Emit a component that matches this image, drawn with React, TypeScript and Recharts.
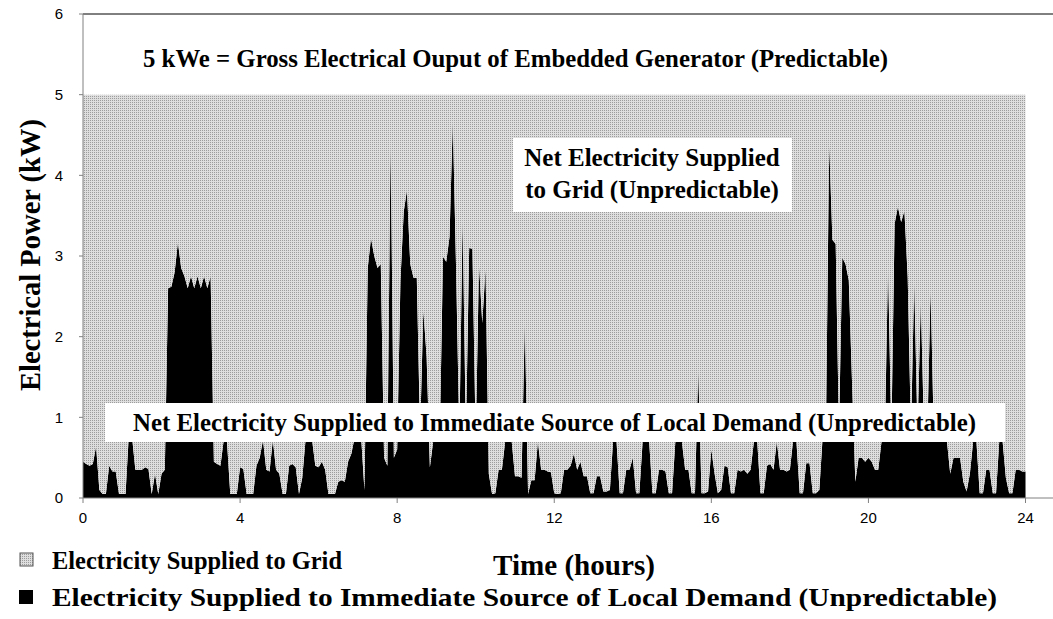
import React from "react";
import { Area, AreaChart, ReferenceLine, XAxis, YAxis } from "recharts";

// demand on the local source, kW, one reading every 5 minutes
const demand00to04 = [
  0.45, 0.42, 0.4, 0.42, 0.64, 0.1, 0.05, 0.05, 0.4, 0.33, 0.33, 0.05,
  0.05, 0.05, 0.78, 0.75, 0.35, 0.35, 0.35, 0.38, 0.36, 0.05, 0.3, 0.05,
  0.3, 0.35, 2.6, 2.62, 2.8, 3.17, 2.85, 2.75, 2.6, 2.75, 2.6, 2.75,
  2.6, 2.75, 2.6, 2.75, 0.45, 0.42, 0.4, 0.72, 0.7, 0.05, 0.05, 0.05,
];
const demand04to08 = [
  0.38, 0.36, 0.05, 0.05, 0.05, 0.4, 0.5, 0.72, 0.35, 0.33, 0.72, 0.35,
  0.3, 0.05, 0.05, 0.4, 0.42, 0.38, 0.05, 0.25, 0.72, 0.7, 0.72, 0.4,
  0.38, 0.45, 0.35, 0.05, 0.05, 0.05, 0.2, 0.22, 0.2, 0.45, 0.55, 0.75,
  0.78, 0.75, 0.1, 2.85, 3.22, 3.0, 2.85, 2.9, 0.5, 0.4, 4.46, 0.5,
];
const demand08to12 = [
  0.6, 2.7, 3.55, 3.82, 2.9, 2.73, 2.73, 0.8, 2.33, 1.75, 0.38, 0.7,
  0.75, 0.7, 2.99, 2.93, 3.24, 4.69, 2.85, 0.75, 3.49, 0.75, 3.1, 3.09,
  0.7, 2.91, 2.17, 2.85, 0.3, 0.05, 0.06, 0.35, 0.35, 0.7, 0.72, 0.7,
  0.27, 0.27, 0.25, 2.2, 0.05, 0.22, 0.22, 0.7, 0.35, 0.35, 0.33, 0.32,
];
const demand12to16 = [
  0.06, 0.05, 0.06, 0.35, 0.35, 0.4, 0.55, 0.35, 0.45, 0.27, 0.27, 0.06,
  0.06, 0.27, 0.27, 0.08, 0.08, 0.1, 0.72, 0.72, 0.06, 0.06, 0.35, 0.35,
  0.5, 0.06, 0.06, 0.7, 0.72, 0.7, 0.06, 0.06, 0.35, 0.35, 0.33, 0.06,
  0.06, 0.7, 0.72, 0.7, 0.35, 0.35, 0.06, 0.06, 1.6, 0.06, 0.06, 0.08,
];
const demand16to20 = [
  0.6, 0.3, 0.06, 0.1, 0.4, 0.38, 0.06, 0.06, 0.35, 0.33, 0.35, 0.3,
  0.35, 0.7, 0.72, 0.06, 0.06, 0.4, 0.42, 0.35, 0.7, 0.35, 0.35, 0.33,
  0.35, 0.72, 0.7, 0.06, 0.06, 0.43, 0.43, 0.06, 0.06, 0.1, 0.75, 0.78,
  4.4, 3.2, 3.15, 0.8, 2.98, 2.9, 2.7, 1.43, 0.2, 0.5, 0.5, 0.45,
];
const demand20to24 = [
  0.5, 0.45, 0.35, 0.35, 0.7, 0.72, 2.89, 0.75, 3.4, 3.61, 3.42, 3.56,
  2.74, 0.8, 2.7, 0.8, 2.45, 0.8, 0.78, 2.6, 0.75, 0.7, 0.72, 0.7,
  0.7, 0.3, 0.5, 0.5, 0.5, 0.2, 0.08, 0.3, 0.7, 0.7, 0.06, 0.06,
  0.35, 0.35, 0.06, 0.06, 0.72, 0.7, 0.25, 0.06, 0.06, 0.35, 0.35, 0.33,
];
const demandAt24 = [0.33];

const STEP_HOURS = 5 / 60;
const GROSS_OUTPUT = 5; // kWe
const xTicks = [0, 4, 8, 12, 16, 20, 24];
const yTicks = [0, 1, 2, 3, 4, 5, 6];

const demand = [
  ...demand00to04,
  ...demand04to08,
  ...demand08to12,
  ...demand12to16,
  ...demand16to20,
  ...demand20to24,
  ...demandAt24,
];

const data = demand.map((d, i) => ({
  t: i * STEP_HOURS,
  demand: d,
  grid: GROSS_OUTPUT - d,
}));

const serif = "'Liberation Serif', 'Times New Roman', serif";
const sans = "'Liberation Sans', Arial, sans-serif";

const Stipple = ({ id }: { id: string }) => (
  <pattern id={id} width="2" height="2" patternUnits="userSpaceOnUse">
    <rect width="2" height="2" fill="#dedede" />
    <rect width="1" height="1" fill="#9c9c9c" />
  </pattern>
);

export default function App() {
  return (
    <div style={{ position: "absolute", left: 0, top: 0, width: 1053, height: 619, background: "#fff" }}>
      <AreaChart
        width={1053}
        height={619}
        data={data}
        margin={{ top: 14, right: 0, left: 0, bottom: 91 }}
      >
        <defs>
          <Stipple id="stipple" />
        </defs>
        <XAxis
          type="number"
          dataKey="t"
          domain={[0, 24.7]}
          ticks={xTicks}
          interval={0}
          height={30}
          tickSize={5}
          tickMargin={9}
          stroke="#808080"
          tick={{ fill: "#000", fontSize: 15, fontFamily: sans }}
        />
        <YAxis
          type="number"
          domain={[0, 6]}
          ticks={yTicks}
          interval={0}
          width={83}
          tickSize={4}
          tickMargin={16}
          stroke="#808080"
          tick={{ fill: "#000", fontSize: 15, fontFamily: sans }}
        />
        <ReferenceLine y={6} stroke="#000" strokeWidth={1} />
        <Area
          type="linear"
          dataKey="demand"
          stackId="1"
          stroke="none"
          fill="#000"
          fillOpacity={1}
          dot={false}
          activeDot={false}
          isAnimationActive={false}
        />
        <Area
          type="linear"
          dataKey="grid"
          stackId="1"
          stroke="none"
          fill="url(#stipple)"
          fillOpacity={1}
          dot={false}
          activeDot={false}
          isAnimationActive={false}
        />
      </AreaChart>
      <svg
        width={1053}
        height={619}
        style={{ position: "absolute", left: 0, top: 0, pointerEvents: "none" }}
      >
        <defs>
          <Stipple id="stippleKey" />
        </defs>
        <g fontFamily={serif} fontWeight="bold" fill="#000">
          <text x={143} y={67} fontSize={25} textLength={745} lengthAdjust="spacingAndGlyphs">
            5 kWe = Gross Electrical Ouput of Embedded Generator (Predictable)
          </text>
          <rect x={513} y={138} width={279} height={74} fill="#fff" />
          <text x={652} y={166} fontSize={25} textAnchor="middle">
            Net Electricity Supplied
          </text>
          <text x={652} y={198} fontSize={25} textAnchor="middle">
            to Grid (Unpredictable)
          </text>
          <rect x={105} y={403} width={900} height={39} fill="#fff" />
          <text x={133} y={431} fontSize={25} textLength={843} lengthAdjust="spacingAndGlyphs">
            Net Electricity Supplied to Immediate Source of Local Demand (Unpredictable)
          </text>
          <text
            x={40}
            y={255}
            fontSize={29}
            textAnchor="middle"
            textLength={272}
            lengthAdjust="spacingAndGlyphs"
            transform="rotate(-90, 40, 255)"
          >
            Electrical Power (kW)
          </text>
          <text x={493} y={575} fontSize={29} textLength={162} lengthAdjust="spacingAndGlyphs">
            Time (hours)
          </text>
          <rect x={20} y={553} width={13} height={13} fill="url(#stippleKey)" stroke="#555" />
          <text x={52} y={569} fontSize={25} textLength={290} lengthAdjust="spacingAndGlyphs">
            Electricity Supplied to Grid
          </text>
          <rect x={19} y={590} width={14} height={14} fill="#000" />
          <text x={0} y={0} fontSize={25} transform="translate(52, 606) scale(1.175, 1)">
            Electricity Supplied to Immediate Source of Local Demand (Unpredictable)
          </text>
        </g>
      </svg>
    </div>
  );
}
